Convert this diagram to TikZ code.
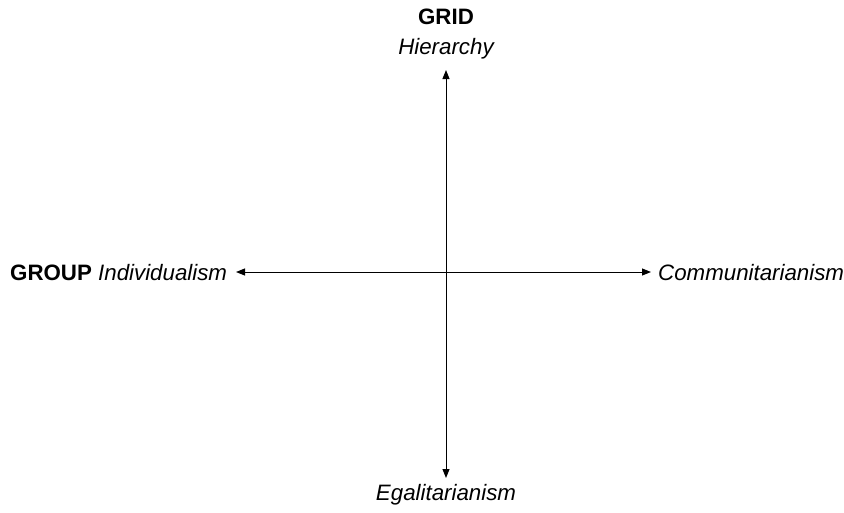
\documentclass[tikz,border=0pt]{standalone}
\usepackage{fontspec}
\setmainfont{Liberation Sans}
\usetikzlibrary{arrows.meta}
\begin{document}
\begin{tikzpicture}[x=1pt,y=-1pt,
  lbl/.style={inner sep=0pt,font=\fontsize{22.3}{25}\selectfont},
  axis/.style={line width=1pt,{Triangle[length=9pt,width=7pt]}-{Triangle[length=9pt,width=7pt]}}]
\useasboundingbox (0,0) rectangle (844,512);
\coordinate (top) at (446,70);
\coordinate (bot) at (446,478);
\coordinate (left) at (236,272);
\coordinate (right) at (651,272);
\draw[axis] (top) -- (bot);
\draw[axis] (left) -- (right);
\node[lbl,font=\fontsize{22.3}{25}\selectfont\bfseries] (grid) at (446,17) {GRID};
\node[lbl,font=\fontsize{22.3}{25}\selectfont\itshape] (hier) at (446,49) {Hierarchy};
\node[lbl,anchor=west] (group) at (10,273) {\textbf{GROUP} \textit{Individualism}};
\node[lbl,anchor=west,font=\fontsize{22.3}{25}\selectfont\itshape] (comm) at (658,273) {Communitarianism};
\node[lbl,font=\fontsize{22.3}{25}\selectfont\itshape] (egal) at (446,495) {Egalitarianism};
\end{tikzpicture}
\end{document}
